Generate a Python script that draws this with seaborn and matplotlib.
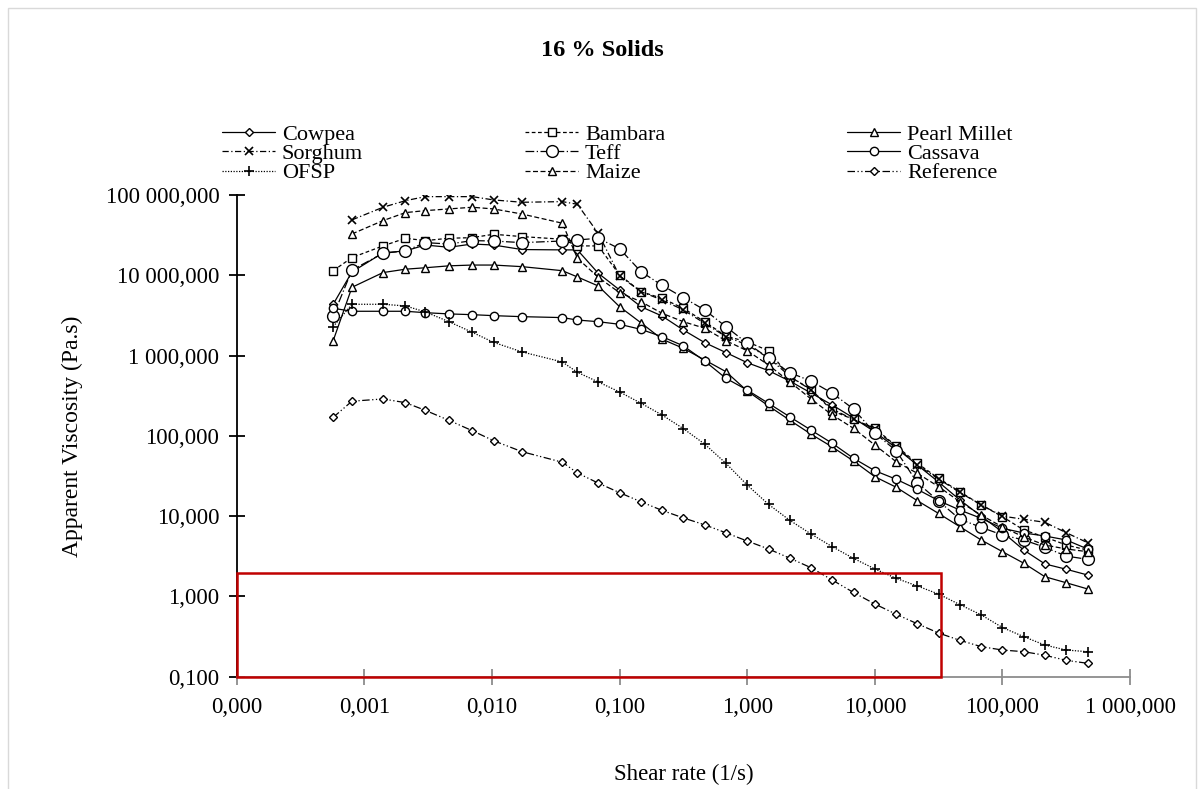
import numpy as np
import pandas as pd
import seaborn as sns
import matplotlib.pyplot as plt
from matplotlib.patches import Rectangle

nan = np.nan

# Shear rate (1/s) shared by every series
shear_rate = [0.00057, 0.0008, 0.0014, 0.0021, 0.003, 0.0046, 0.007, 0.0103, 0.0172,
              0.0356, 0.0467, 0.068, 0.1, 0.147, 0.215, 0.316, 0.464, 0.681, 1.0,
              1.47, 2.15, 3.16, 4.64, 6.81, 10.0, 14.7, 21.5, 31.6, 46.4, 68.1,
              100.0, 147.0, 215.0, 316.0, 464.0]

# Apparent viscosity (Pa.s)
cowpea = [4350, 11000, 19000, 20100, 23800, 22300, 24500, 23800, 20900, 20700, 20700,
          10600, 6560, 4060, 3110, 2080, 1450, 1090, 815, 649, 482, 342, 242, 167, 112,
          70.6, 43.4, 26.6, 15.9, 10.0, 6.34, 3.78, 2.54, 2.18, 1.85]
bambara = [11400, 16600, 23200, 28900, 27000, 28900, 29400, 32400, 30300, 28100, 23200,
           23200, 10100, 6250, 5160, 3880, 2640, 1750, 1480, 1150, 546, 380, 205, 160, 124,
           74.8, 45.5, 29.6, 20.1, 13.8, 9.84, 6.71, 5.50, 4.37, 3.78]
pearl_millet = [1530, 7080, 10800, 11900, 12400, 13100, 13400, 13400, 12800, 11400, 9530,
                7360, 4060, 2560, 1600, 1230, 881, 630, 362, 236, 157, 105, 72.6, 48.6, 31.0,
                22.9, 15.6, 10.8, 7.38, 5.05, 3.61, 2.59, 1.76, 1.48, 1.24]
sorghum = [nan, 48900, 70300, 84900, 95300, 95300, 95300, 86700, 81100, 82600, 76600,
           33300, 9800, 6250, 4920, 3700, 2520, 1720, 1360, 933, 557, 372, 215, 160, 122,
           72.6, 43.4, 29.0, 19.7, 13.8, 10.0, 9.14, 8.38, 6.22, 4.67]
teff = [3110, 11600, 18800, 20100, 25500, 24500, 27000, 26700, 25500, 26700, 27500,
        28900, 21400, 11100, 7500, 5260, 3700, 2290, 1420, 933, 612, 482, 339, 216, 108,
        65.3, 26.1, 15.4, 9.14, 7.26, 5.82, 5.05, 4.09, 3.18, 2.90]
cassava = [3880, 3560, 3560, 3560, 3420, 3300, 3230, 3140, 3050, 2970, 2770, 2640, 2450,
           2120, 1720, 1320, 855, 521, 372, 254, 173, 118, 80.7, 52.5, 36.8, 28.8, 21.6,
           15.6, 11.9, 9.40, 7.05, 6.17, 5.66, 5.05, 3.90]
ofsp = [2290, 4350, 4350, 4150, 3500, 2640, 1950, 1460, 1110, 832, 619, 469, 352, 255,
        182, 123, 79.0, 45.5, 24.4, 14.0, 8.9, 6.0, 4.16, 2.98, 2.20, 1.68, 1.35, 1.07,
        0.79, 0.59, 0.41, 0.315, 0.248, 0.215, 0.205]
maize = [nan, 32700, 47900, 60300, 63800, 67000, 70300, 67000, 57900, 44500, 16300, 9440,
         6070, 4690, 3360, 2640, 2190, 1530, 1150, 762, 473, 288, 182, 124, 76.9, 47.6,
         34.2, 23.3, 15.1, 10.3, 7.33, 5.50, 4.37, 3.90, 3.61]
reference = [170, 270, 288, 259, 208, 156, 116, 87, 63.5, 46.9, 34.5, 25.8, 19.6, 15.1,
             11.8, 9.5, 7.8, 6.2, 4.9, 3.9, 3.0, 2.28, 1.60, 1.12, 0.805, 0.60, 0.457,
             0.35, 0.284, 0.237, 0.215, 0.205, 0.185, 0.16, 0.147]

x_tick_labels = ["0,000", "0,001", "0,010", "0,100", "1,000", "10,000", "100,000", "1 000,000"]
y_tick_labels = ["0,100", "1,000", "10,000", "100,000", "1 000,000", "10 000,000", "100 000,000"]

# highlighted region (red box)
box_x = (0.0001, 33.0)
box_y = (0.1, 1.94)

sns.set_theme(style="white")
plt.rcParams['font.family'] = ['Liberation Serif', 'DejaVu Serif']
plt.rcParams['text.color'] = 'black'
plt.rcParams['axes.labelcolor'] = 'black'

fig = plt.figure(figsize=(12.04, 7.89), dpi=100)
ax = fig.add_axes([0.1966, 0.1423, 0.742, 0.6106])

# name, values, marker, marker size, line style
series = [
    ("Cowpea", cowpea, "D", 4.0, "-"),
    ("Bambara", bambara, "s", 5.5, (0, (3, 2))),
    ("Pearl Millet", pearl_millet, "^", 6.0, "-"),
    ("Sorghum", sorghum, "x", 5.5, (0, (5, 2, 1, 2))),
    ("Teff", teff, "o", 8.5, (0, (7, 2, 1, 2))),
    ("Cassava", cassava, "o", 6.0, "-"),
    ("OFSP", ofsp, "+", 6.5, (0, (1, 1.2))),
    ("Maize", maize, "^", 6.0, (0, (4, 2))),
    ("Reference", reference, "D", 4.0, (0, (6, 2, 1, 2, 1, 2))),
]

handles = {}
for name, vals, mk, ms, ls in series:
    df = pd.DataFrame({"shear": shear_rate, "visc": vals}).dropna()
    sns.lineplot(data=df, x="shear", y="visc", ax=ax, color="black", linewidth=0.9,
                 linestyle=ls, marker=mk, markersize=ms, markerfacecolor="white",
                 markeredgecolor="black", markeredgewidth=1.2 if mk in "x+" else 1.0,
                 errorbar=None, sort=False, label=name)
    handles[name] = ax.get_lines()[-1]

if ax.get_legend() is not None:
    ax.get_legend().remove()

ax.set_xscale("log")
ax.set_yscale("log")
ax.set_xlim(1e-4, 1e3)
ax.set_ylim(0.1, 1e5)
ax.set_xticks(10.0 ** np.arange(-4, 4), x_tick_labels)
ax.set_yticks(10.0 ** np.arange(-1, 6), y_tick_labels)
ax.xaxis.set_minor_locator(plt.NullLocator())
ax.yaxis.set_minor_locator(plt.NullLocator())

for side in ["top", "right"]:
    ax.spines[side].set_visible(False)
ax.spines["left"].set_color("black")
ax.spines["left"].set_linewidth(1.3)
ax.spines["bottom"].set_color("#8c8c8c")
ax.spines["bottom"].set_linewidth(1.3)
ax.tick_params(axis="y", direction="inout", length=11, width=1.3, color="black",
               labelsize=16.5, labelcolor="black", left=True, pad=7)
ax.tick_params(axis="x", direction="inout", length=11, width=1.3, color="#8c8c8c",
               labelsize=16.5, labelcolor="black", bottom=True, pad=9)

ax.set_xlabel("Shear rate (1/s)", fontsize=16.5, labelpad=33)
ax.set_ylabel("Apparent Viscosity (Pa.s)", fontsize=17, labelpad=16)

ax.add_patch(Rectangle((box_x[0], box_y[0]), box_x[1] - box_x[0], box_y[1] - box_y[0],
                       fill=False, edgecolor="#c00000", linewidth=1.8, clip_on=False, zorder=6))

fig.text(0.5, 1 - 50 / 789, "16 % Solids", ha="center", va="center",
         fontsize=17.5, fontweight="bold")

# legend: three columns of three entries
columns = [["Cowpea", "Sorghum", "OFSP"],
           ["Bambara", "Teff", "Maize"],
           ["Pearl Millet", "Cassava", "Reference"]]
col_x = [222 / 1204, 525 / 1204, 847 / 1204]
for names, cx in zip(columns, col_x):
    fig.legend([handles[n] for n in names], names, loc="upper left",
               bbox_to_anchor=(cx, 1 - 124 / 789), frameon=False, fontsize=16,
               handlelength=2.4, handletextpad=0.3, labelspacing=-0.05,
               borderpad=0, borderaxespad=0)

fig.add_artist(Rectangle((0.007, -0.02), 0.986, 1.01, transform=fig.transFigure,
                         fill=False, edgecolor="#d9d9d9", linewidth=1))

fig.savefig("out.png", dpi=100)
